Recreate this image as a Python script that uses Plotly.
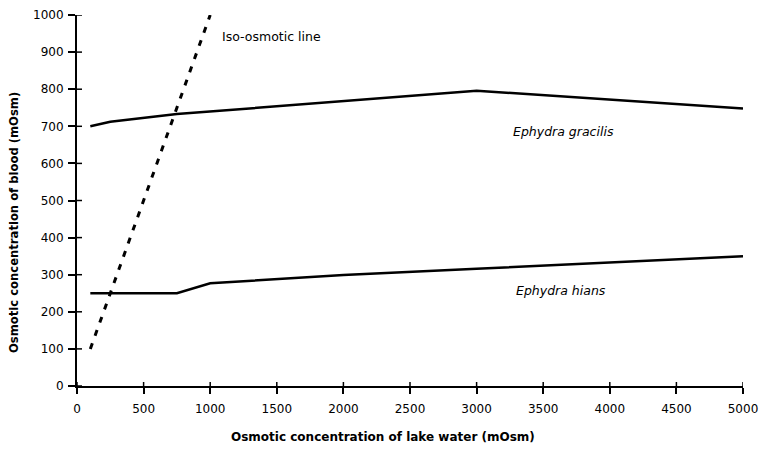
import plotly.graph_objects as go

iso_x = [100, 1000]
iso_y = [100, 1000]

gracilis_x = [100, 250, 750, 1000, 2000, 3000, 5000]
gracilis_y = [700, 712, 733, 740, 768, 796, 748]

hians_x = [100, 750, 1000, 2000, 3000, 5000]
hians_y = [250, 250, 277, 299, 316, 350]

x_ticks = [0, 500, 1000, 1500, 2000, 2500, 3000, 3500, 4000, 4500, 5000]
y_ticks = [0, 100, 200, 300, 400, 500, 600, 700, 800, 900, 1000]

FONT = "DejaVu Sans, Verdana, sans-serif"
X_RANGE = [0, 5000]
Y_RANGE = [0, 1000]

fig = go.Figure()
fig.add_trace(go.Scatter(x=iso_x, y=iso_y, mode="lines",
                         line=dict(color="black", width=3, dash="6px,8px"),
                         showlegend=False))
fig.add_trace(go.Scatter(x=gracilis_x, y=gracilis_y, mode="lines",
                         line=dict(color="black", width=2.5),
                         showlegend=False))
fig.add_trace(go.Scatter(x=hians_x, y=hians_y, mode="lines",
                         line=dict(color="black", width=2.5),
                         showlegend=False))

fig.add_annotation(x=1074, y=941, text="Iso-osmotic line", showarrow=False,
                   xanchor="left", yanchor="middle",
                   font=dict(size=12.5, color="black", family=FONT))
fig.add_annotation(x=3656, y=685, text="<i>Ephydra gracilis</i>", showarrow=False,
                   yanchor="middle", font=dict(size=12.5, color="black", family=FONT))
fig.add_annotation(x=3637, y=257, text="<i>Ephydra hians</i>", showarrow=False,
                   yanchor="middle", font=dict(size=12.5, color="black", family=FONT))

fig.add_annotation(xref="paper", yref="paper", x=0.459, y=-0.137,
                   xanchor="center", yanchor="middle",
                   text="<b>Osmotic concentration of lake water (mOsm)</b>",
                   showarrow=False, font=dict(size=12, color="black", family=FONT))
fig.add_annotation(xref="paper", yref="paper", x=-0.0946, y=0.442, textangle=-90,
                   xanchor="center", yanchor="middle",
                   text="<b>Osmotic concentration of blood (mOsm)</b>",
                   showarrow=False, font=dict(size=11.6, color="black", family=FONT))

# inward halves of the crossing tick marks
for xv in x_ticks:
    fig.add_shape(type="line", xref="x", yref="paper", ysizemode="pixel", yanchor=0,
                  x0=xv, x1=xv, y0=0, y1=4, line=dict(color="black", width=1.5))
for yv in y_ticks:
    fig.add_shape(type="line", xref="paper", yref="y", xsizemode="pixel", xanchor=0,
                  x0=0, x1=5, y0=yv, y1=yv, line=dict(color="black", width=1.5))

common = dict(showgrid=False, zeroline=False, automargin=False)

fig.update_layout(
    width=759, height=452,
    margin=dict(l=77, r=16, t=15, b=66),
    paper_bgcolor="white", plot_bgcolor="white",
    font=dict(family=FONT, color="black", size=12),
    xaxis=dict(range=X_RANGE, tickvals=x_ticks, ticktext=[str(v) for v in x_ticks],
               showline=True, linecolor="black", linewidth=2,
               ticks="outside", ticklen=6, tickwidth=1.5, tickcolor="black",
               ticklabelstandoff=5, tickfont=dict(size=12), **common),
    yaxis=dict(range=Y_RANGE, tickvals=y_ticks, ticktext=[str(v) for v in y_ticks],
               showline=True, linecolor="black", linewidth=2,
               ticks="outside", ticklen=7, tickwidth=1.5, tickcolor="black",
               ticklabelstandoff=2, tickfont=dict(size=12), **common),
)

fig.write_html("out.html")
